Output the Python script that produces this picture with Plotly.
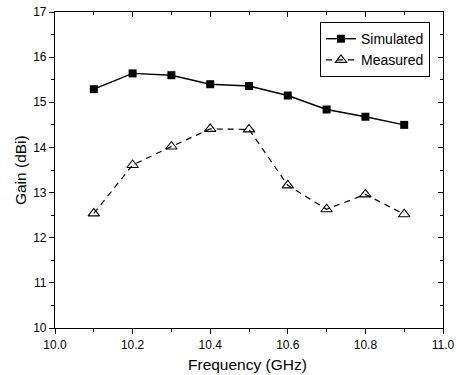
import plotly.graph_objects as go

freq = [10.1, 10.2, 10.3, 10.4, 10.5, 10.6, 10.7, 10.8, 10.9]
simulated = [15.29, 15.64, 15.60, 15.40, 15.36, 15.15, 14.84, 14.68, 14.50]
measured = [12.54, 13.61, 14.02, 14.41, 14.40, 13.16, 12.63, 12.96, 12.52]

x_title = "Frequency (GHz)"
y_title = "Gain (dBi)"

fig = go.Figure()
fig.add_trace(go.Scatter(
    x=freq, y=simulated, name="Simulated", mode="lines+markers",
    line=dict(color="black", width=1.4),
    marker=dict(symbol="square", size=8, color="black"),
))
fig.add_trace(go.Scatter(
    x=freq, y=measured, name="Measured", mode="lines+markers",
    line=dict(color="black", width=1.2, dash="6px,5px"),
    marker=dict(symbol="triangle-up-open", size=10, color="black", line=dict(width=1.1)),
))

font = dict(family="Liberation Sans, Arial, sans-serif", color="black")
fig.update_layout(
    width=456, height=375,
    margin=dict(l=55, r=13, t=12, b=47, autoexpand=False),
    paper_bgcolor="white", plot_bgcolor="white",
    font=dict(size=12, **font),
    showlegend=True,
    legend=dict(x=0.9665, y=0.968, xanchor="right", yanchor="top",
                bgcolor="white", bordercolor="black", borderwidth=1,
                font=dict(size=14, **font), tracegroupgap=0,
                itemwidth=30),
    xaxis=dict(range=[10.0, 11.0], tick0=10.0, dtick=0.2, tickformat=".1f",
               ticks="outside", ticklen=5, tickwidth=1, tickcolor="black",
               tickfont=dict(size=12, **font),
               minor=dict(dtick=0.1, ticks="outside", ticklen=3, tickcolor="black"),
               showline=True, linecolor="black", linewidth=1.2, mirror=True,
               showgrid=False, zeroline=False, automargin=False),
    yaxis=dict(range=[10, 17], tick0=10, dtick=1,
               ticks="outside", ticklen=5, tickwidth=1, tickcolor="black",
               tickfont=dict(size=12, **font),
               minor=dict(dtick=0.5, ticks="outside", ticklen=3, tickcolor="black"),
               showline=True, linecolor="black", linewidth=1.2, mirror=True,
               showgrid=False, zeroline=False, automargin=False),
    xaxis2=dict(overlaying="x", side="top", range=[10.0, 11.0], tick0=10.0, dtick=0.2,
                ticks="inside", ticklen=5, tickcolor="black", showticklabels=False,
                minor=dict(dtick=0.1, ticks="inside", ticklen=3, tickcolor="black"),
                showgrid=False, zeroline=False, showline=False, automargin=False),
    yaxis2=dict(overlaying="y", side="right", range=[10, 17], tick0=10, dtick=1,
                ticks="inside", ticklen=5, tickcolor="black", showticklabels=False,
                minor=dict(dtick=0.5, ticks="inside", ticklen=3, tickcolor="black"),
                showgrid=False, zeroline=False, showline=False, automargin=False),
    annotations=[
        dict(text=x_title, xref="paper", yref="paper", x=0.497, y=-0.082,
             xanchor="center", yanchor="top", showarrow=False,
             font=dict(size=15.5, **font)),
        dict(text=y_title, xref="paper", yref="paper", x=-0.09, y=0.5,
             xanchor="center", yanchor="middle", textangle=-90, showarrow=False,
             font=dict(size=15.5, **font)),
    ],
)
fig.add_trace(go.Scatter(x=[None], y=[None], xaxis="x2", yaxis="y2",
                         showlegend=False, hoverinfo="skip"))

fig.write_html("out.html", config={"displayModeBar": False},
               post_script="document.body.style.margin='0px';")
